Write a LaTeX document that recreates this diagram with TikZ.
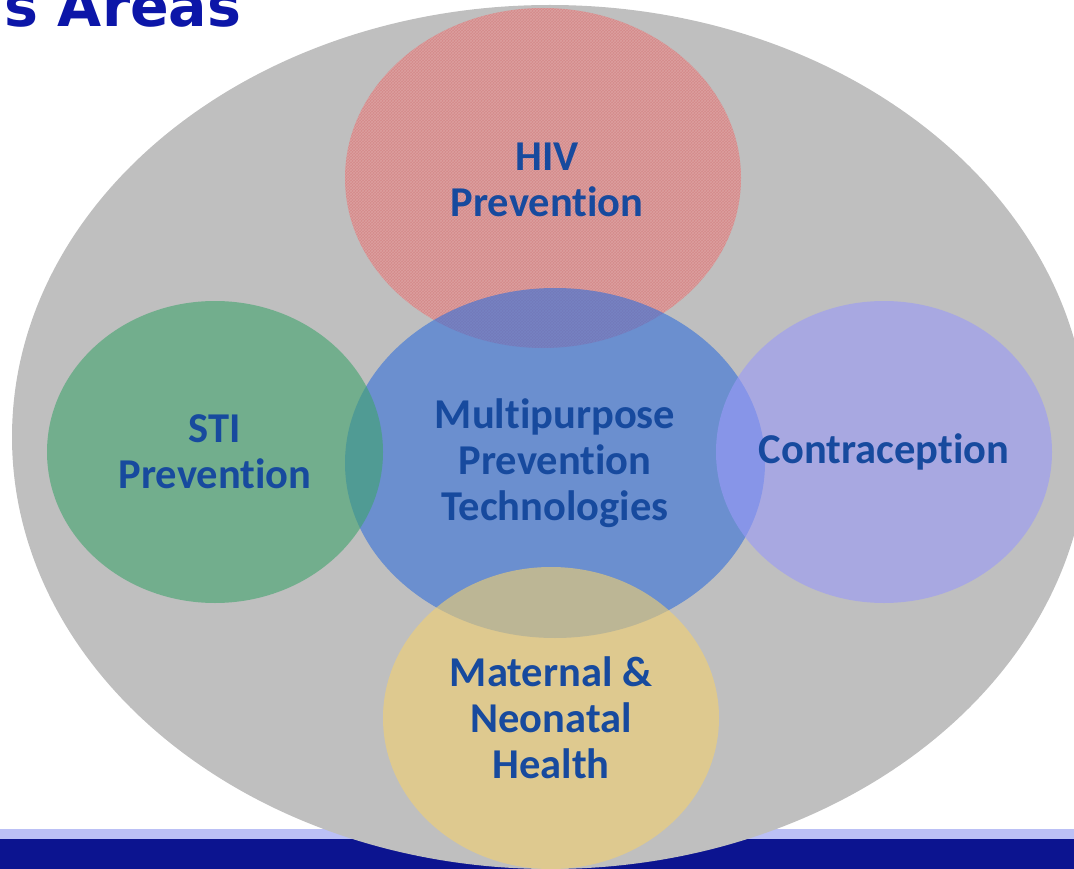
\documentclass[tikz,border=0pt]{standalone}
\usepackage{fontspec}
\setmainfont{Carlito}[Ligatures=NoCommon]
\newfontfamily\titlefont{DejaVu Sans}
\definecolor{bggray}{RGB}{191,191,191}
\definecolor{hivred}{RGB}{226,103,103}
\definecolor{mptblue}{RGB}{51,111,218}
\definecolor{stigreen}{RGB}{63,163,109}
\definecolor{contralav}{RGB}{154,154,249}
\definecolor{matyellow}{RGB}{243,208,111}
\definecolor{labelblue}{RGB}{23,74,158}
\definecolor{titleblue}{RGB}{12,22,168}
\definecolor{barnavy}{RGB}{12,20,144}
\definecolor{barlav}{RGB}{187,192,245}
\usetikzlibrary{shapes.geometric,patterns}
\tikzset{
  labelfont/.style={text=labelblue, align=center, inner sep=0pt,
    font=\bfseries\fontsize{42.5}{46}\selectfont},
  area/.style={ellipse, inner sep=0pt, fill opacity=0.6},
  small area/.style={area, minimum width=336pt, minimum height=302pt},
}
\begin{document}
\begin{tikzpicture}[x=1pt,y=-1pt]
\useasboundingbox (0,0) rectangle (1074,869);
\clip (0,0) rectangle (1074,869);
% bottom bars
\fill[barlav] (0,829) rectangle (1074,839);
\fill[barnavy] (0,839) rectangle (1074,869);
% title
\node[anchor=base west, inner sep=0pt, text=titleblue,
  font=\titlefont\bfseries\fontsize{57}{60}\selectfont] (title) at (4,27) {s Areas};
% big background ellipse
\node[ellipse, fill=bggray, minimum width=1076pt, minimum height=864pt, inner sep=0pt] (bg) at (550,437) {};
% areas
\node[area, fill=hivred, minimum width=396pt, minimum height=340pt] (hivbg) at (543,178) {};
\path[pattern=crosshatch, pattern color=white, opacity=0.18] (hivbg.center) ellipse [x radius=198pt, y radius=170pt];
\node[area, fill=mptblue, minimum width=420pt, minimum height=350pt] (mptbg) at (555,463) {};
\node[small area, fill=stigreen] (stibg) at (215,452) {};
\node[small area, fill=contralav] (contrabg) at (884,452) {};
\node[small area, fill=matyellow] (matbg) at (551,718) {};
% labels
\node[labelfont] (hiv) at (547,180) {HIV\\Prevention};
\node[labelfont] (mpt) at (555,463) {Multipurpose\\Prevention\\Technologies};
\node[labelfont] (sti) at (215,452) {STI\\Prevention};
\node[labelfont] (contra) at (884,452) {Contraception};
\node[labelfont] (mat) at (551,718) {Maternal \&\\Neonatal\\Health};
\end{tikzpicture}
\end{document}
